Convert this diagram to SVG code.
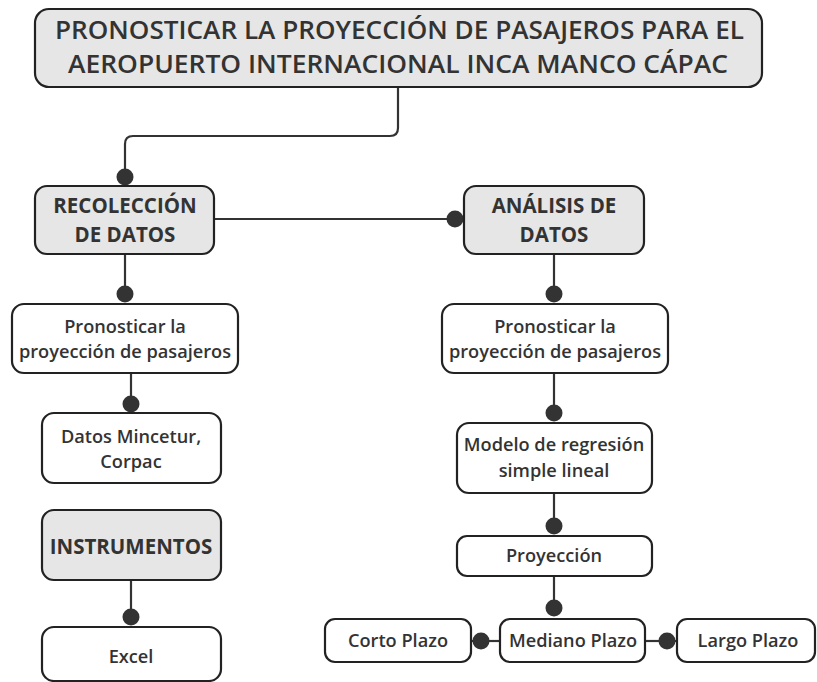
<svg xmlns="http://www.w3.org/2000/svg" width="817" height="682" viewBox="0 0 817 682">
<style>
.box{fill:#ffffff;stroke:#222;stroke-width:2.2}
.hdr{fill:#e6e6e6;stroke:#222;stroke-width:2.2}
.t{font-family:"Open Sans","Noto Sans",sans-serif;fill:#333;text-anchor:middle}
.s{font-size:18.2px;font-weight:600}
.b{font-size:20.5px;font-weight:700}
.title{font-size:25px;font-weight:600}
.ln{fill:none;stroke:#333;stroke-width:2.2}
.dot{fill:#333}
</style>
<rect width="817" height="682" fill="#ffffff"/>
<g id="connectors">
<path class="ln" d="M398,87 V128 Q398,136 390,136 H133 Q125,136 125,144 V177"/>
<circle class="dot" cx="125" cy="177" r="8.5"/>
<path class="ln" d="M214,219 H455"/>
<circle class="dot" cx="455" cy="219" r="8.5"/>
<path class="ln" d="M125,254 V294"/>
<circle class="dot" cx="125" cy="294" r="8.5"/>
<path class="ln" d="M131,373 V404"/>
<circle class="dot" cx="131" cy="404" r="8.5"/>
<path class="ln" d="M131,580 V617"/>
<circle class="dot" cx="131" cy="617" r="8.5"/>
<path class="ln" d="M554,254 V294"/>
<circle class="dot" cx="554" cy="294" r="8.5"/>
<path class="ln" d="M554,373 V413"/>
<circle class="dot" cx="554" cy="413" r="8.5"/>
<path class="ln" d="M554,493 V526"/>
<circle class="dot" cx="554" cy="526" r="8.5"/>
<path class="ln" d="M554,576 V608"/>
<circle class="dot" cx="554" cy="608" r="8.5"/>
<path class="ln" d="M471,641 H500"/>
<circle class="dot" cx="481" cy="641" r="8.5"/>
<path class="ln" d="M645,641 H677"/>
<circle class="dot" cx="667" cy="641" r="8.5"/>
</g>
<g id="title">
<rect class="hdr" x="35" y="9" width="727" height="78" rx="14"/>
<text class="t title" x="399.5" y="39" textLength="689" lengthAdjust="spacingAndGlyphs">PRONOSTICAR LA PROYECCIÓN DE PASAJEROS PARA EL</text>
<text class="t title" x="398" y="73" textLength="660" lengthAdjust="spacingAndGlyphs">AEROPUERTO INTERNACIONAL INCA MANCO CÁPAC</text>
</g>
<g id="recoleccion">
<rect class="hdr" x="35" y="186" width="179" height="68" rx="12"/>
<text class="t b" x="125" y="213">RECOLECCIÓN</text>
<text class="t b" x="125" y="242">DE DATOS</text>
</g>
<g id="analisis">
<rect class="hdr" x="464" y="186" width="180" height="68" rx="12"/>
<text class="t b" x="554" y="213">ANÁLISIS DE</text>
<text class="t b" x="554" y="242">DATOS</text>
</g>
<g id="pronosticar-left">
<rect class="box" x="12" y="304" width="226" height="69" rx="12"/>
<text class="t s" x="125" y="333">Pronosticar la</text>
<text class="t s" x="125" y="358">proyección de pasajeros</text>
</g>
<g id="datos">
<rect class="box" x="42" y="413" width="179" height="70" rx="12"/>
<text class="t s" x="131" y="443">Datos Mincetur,</text>
<text class="t s" x="131" y="468">Corpac</text>
</g>
<g id="instrumentos">
<rect class="hdr" x="42" y="510" width="179" height="70" rx="12"/>
<text class="t b" x="131" y="554">INSTRUMENTOS</text>
</g>
<g id="excel">
<rect class="box" x="42" y="627" width="179" height="54" rx="12"/>
<text class="t s" x="131" y="663">Excel</text>
</g>
<g id="pronosticar-right">
<rect class="box" x="442" y="304" width="226" height="69" rx="12"/>
<text class="t s" x="555" y="333">Pronosticar la</text>
<text class="t s" x="555" y="358">proyección de pasajeros</text>
</g>
<g id="modelo">
<rect class="box" x="457" y="423" width="195" height="70" rx="12"/>
<text class="t s" x="554" y="451">Modelo de regresión</text>
<text class="t s" x="554" y="477">simple lineal</text>
</g>
<g id="proyeccion">
<rect class="box" x="457" y="536" width="195" height="40" rx="10"/>
<text class="t s" x="554" y="562">Proyección</text>
</g>
<g id="corto">
<rect class="box" x="325" y="619" width="146" height="43" rx="10"/>
<text class="t s" x="398" y="647">Corto Plazo</text>
</g>
<g id="mediano">
<rect class="box" x="500" y="619" width="145" height="43" rx="10"/>
<text class="t s" x="573" y="647">Mediano Plazo</text>
</g>
<g id="largo">
<rect class="box" x="677" y="619" width="138" height="43" rx="10"/>
<text class="t s" x="748" y="647">Largo Plazo</text>
</g>
</svg>
